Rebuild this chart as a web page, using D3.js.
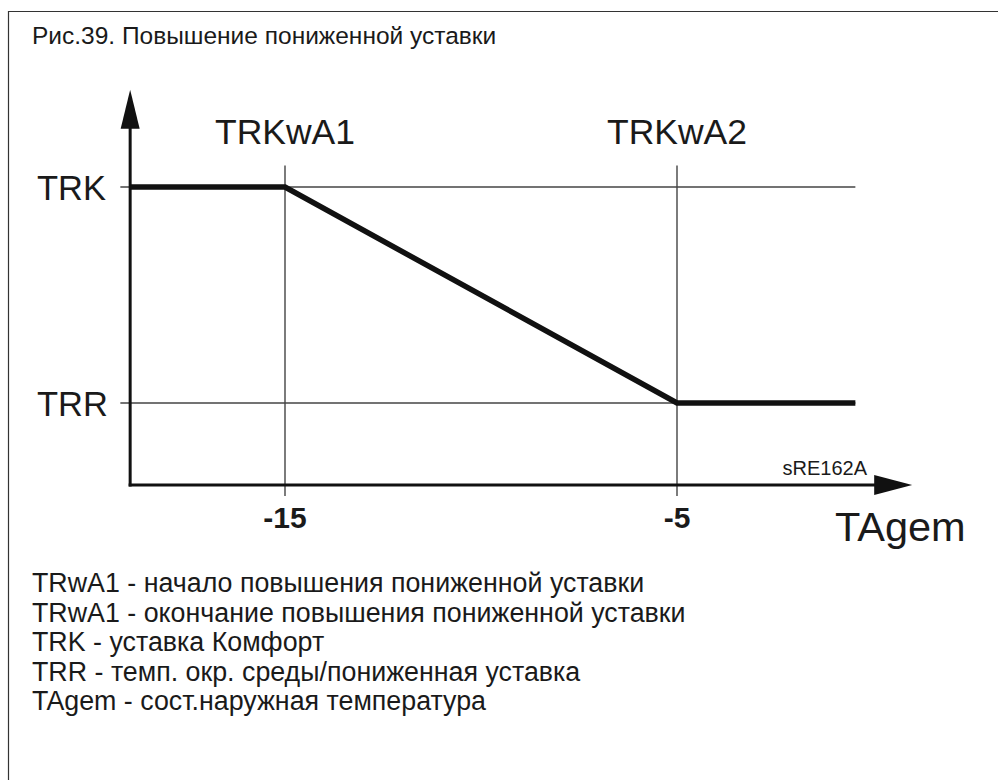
<!DOCTYPE html>
<html>
<head>
<meta charset="utf-8">
<script src="https://cdn.jsdelivr.net/npm/d3@7"></script>
<style>
  html, body { margin: 0; padding: 0; background: #fff; }
  svg { display: block; }
  text { font-family: "Liberation Sans", Arial, sans-serif; fill: #1a1a1a; }
</style>
</head>
<body>
<svg id="chart" width="998" height="780"></svg>
<script>
// Outdoor temperature breakpoints (°C) and their names
const xTicks = [-15, -5];
const xTickLabels = ["-15", "-5"];
const breakpointNames = ["TRKwA1", "TRKwA2"];

// Setpoint levels: reduced (0) and comfort (1)
const levelNames = ["TRR", "TRK"];
const levelValues = [0, 1];

// Setpoint curve: comfort until -15, linear ramp down to reduced at -5
const curveX = [-18.95, -15, -5, -0.45];
const curveY = [1, 1, 0, 0];

const legendLines = [
  "TRwA1 - начало повышения пониженной уставки",
  "TRwA1 - окончание повышения пониженной уставки",
  "TRK - уставка Комфорт",
  "TRR - темп. окр. среды/пониженная уставка",
  "TAgem - сост.наружная температура"
];

const svg = d3.select("#chart");

const x = d3.scaleLinear().domain([-15, -5]).range([285, 677]);
const y = d3.scaleLinear().domain([0, 1]).range([403, 187]);

// Frame: top and left edge
svg.append("path")
  .attr("d", `M8.5,780 V11.5 H998`)
  .attr("fill", "none").attr("stroke", "#333").attr("stroke-width", 1.2);

svg.append("text")
  .attr("x", 32).attr("y", 44)
  .attr("font-size", 24.5)
  .text("Рис.39. Повышение пониженной уставки");

const xAxisY = y(-0.38);
const yAxisX = x(-18.95);

// Thin reference lines at setpoint levels
svg.selectAll("line.hgrid").data(levelValues).join("line")
  .attr("class", "hgrid")
  .attr("x1", x(-19.2)).attr("x2", x(-0.45))
  .attr("y1", d => y(d)).attr("y2", d => y(d))
  .attr("stroke", "#444").attr("stroke-width", 1.4);

// Thin vertical lines at temperature breakpoints
svg.selectAll("line.vgrid").data(xTicks).join("line")
  .attr("class", "vgrid")
  .attr("x1", d => x(d)).attr("x2", d => x(d))
  .attr("y1", y(1.1)).attr("y2", y(-0.43))
  .attr("stroke", "#444").attr("stroke-width", 1.4);

// Axes
svg.append("line")
  .attr("x1", yAxisX).attr("x2", yAxisX)
  .attr("y1", y(1.3)).attr("y2", xAxisY + 1.5)
  .attr("stroke", "#111").attr("stroke-width", 3);
svg.append("line")
  .attr("x1", yAxisX - 1.5).attr("x2", x(0.7))
  .attr("y1", xAxisY).attr("y2", xAxisY)
  .attr("stroke", "#111").attr("stroke-width", 3);

// Arrow heads
const yTip = y(1.45), xTip = x(1.0);
svg.append("path")
  .attr("d", `M${yAxisX},${yTip} L${yAxisX + 9.5},${yTip + 39} L${yAxisX - 9.5},${yTip + 39} Z`)
  .attr("fill", "#111");
svg.append("path")
  .attr("d", `M${xTip},${xAxisY} L${xTip - 38},${xAxisY - 10} L${xTip - 38},${xAxisY + 10} Z`)
  .attr("fill", "#111");

// Setpoint curve
const line = d3.line().x(d => x(d[0])).y(d => y(d[1]));
svg.append("path")
  .datum(d3.zip(curveX, curveY))
  .attr("d", line)
  .attr("fill", "none").attr("stroke", "#111").attr("stroke-width", 5.5)
  .attr("stroke-linejoin", "miter");

// Level labels
svg.selectAll("text.level").data(levelValues).join("text")
  .attr("class", "level")
  .attr("x", 37).attr("y", d => y(d) + 12.5)
  .attr("font-size", 34.5)
  .text((d, i) => levelNames[i]);

// Breakpoint names above
svg.selectAll("text.bpname").data(xTicks).join("text")
  .attr("class", "bpname")
  .attr("x", d => x(d)).attr("y", 144)
  .attr("text-anchor", "middle")
  .attr("font-size", 35.5)
  .text((d, i) => breakpointNames[i]);

// Tick values below
svg.selectAll("text.tick").data(xTicks).join("text")
  .attr("class", "tick")
  .attr("x", d => x(d)).attr("y", 528)
  .attr("text-anchor", "middle")
  .attr("font-size", 30).attr("font-weight", "bold")
  .text((d, i) => xTickLabels[i]);

svg.append("text")
  .attr("x", 835).attr("y", 541)
  .attr("font-size", 41.5)
  .text("TAgem");

svg.append("text")
  .attr("x", 867).attr("y", 475)
  .attr("text-anchor", "end")
  .attr("font-size", 20)
  .text("sRE162A");

// Legend
svg.selectAll("text.legend").data(legendLines).join("text")
  .attr("class", "legend")
  .attr("x", 32).attr("y", (d, i) => 592 + i * 29.5)
  .attr("font-size", 26.8)
  .text(d => d);
</script>
</body>
</html>
